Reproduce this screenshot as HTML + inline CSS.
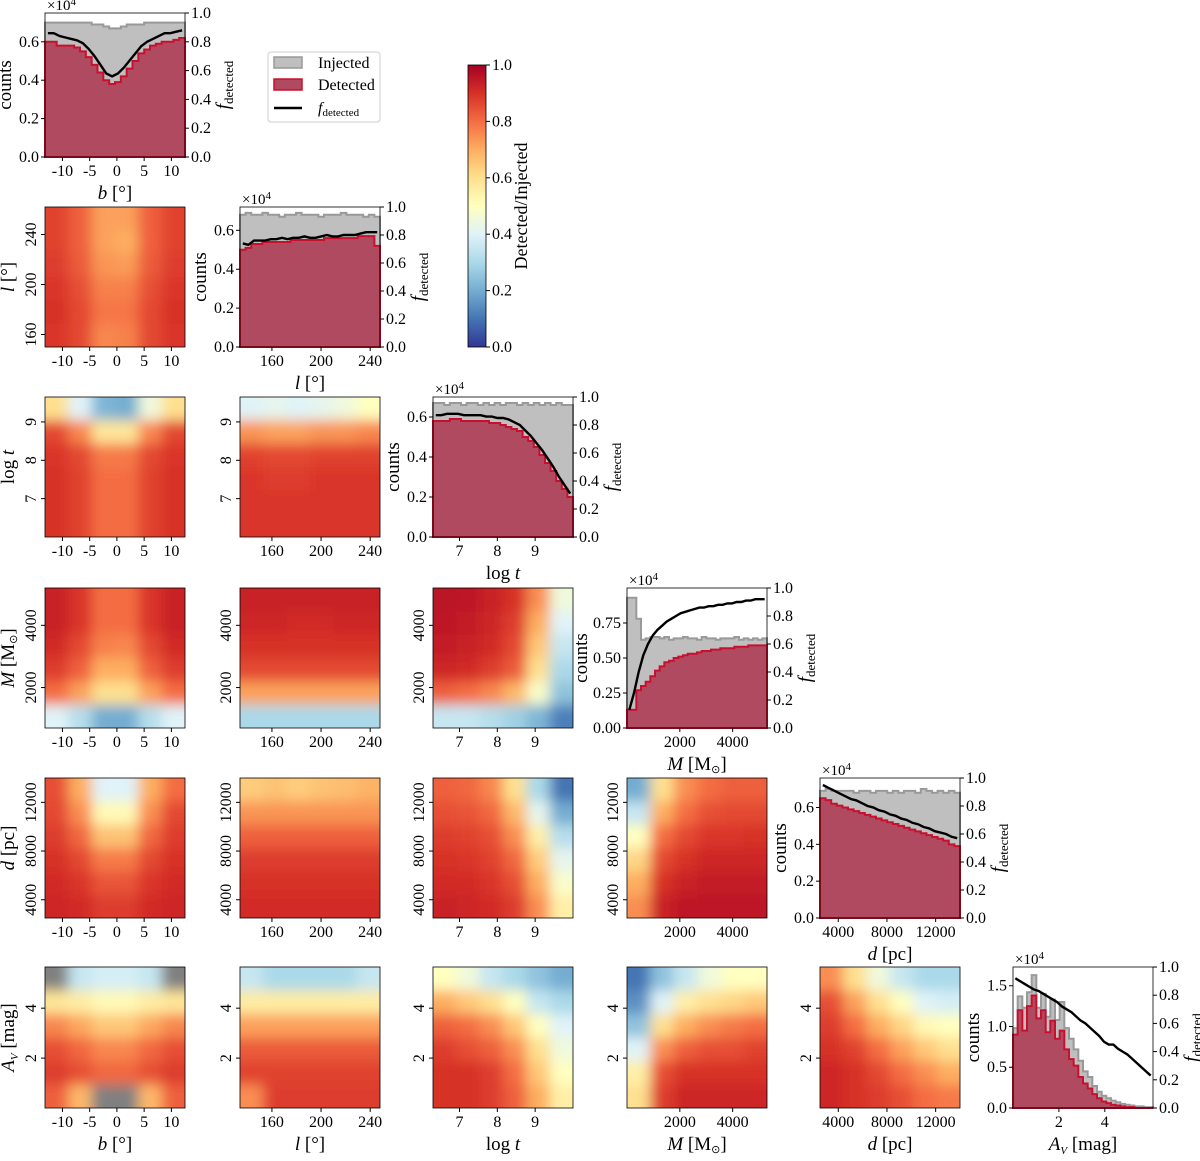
<!DOCTYPE html>
<html><head><meta charset="utf-8"><style>
html,body{margin:0;padding:0;background:#fff;}
svg text{font-family:"Liberation Serif",serif;fill:#000;}
</style></head><body>
<svg id="fig" xmlns="http://www.w3.org/2000/svg" width="1200" height="1156" viewBox="0 0 1200 1156"></svg>
<script>
// ---- data ----
const varNames = ["b","l","logt","M","d","AV"];
const xRanges = [[-13.2,12.5],[134,248],[6.3,10],[0,5300],[2500,14000],[0,6.1]];
const yRanges = [[-13.2,12.5],[150,262],[6.0,9.65],[700,5200],[2500,14000],[0,5.65]];
const tickVals = [[-10,-5,0,5,10],[160,200,240],[7,8,9],[2000,4000],[4000,8000,12000],[2,4]];
const tickLabels = [["-10","-5","0","5","10"],["160","200","240"],["7","8","9"],["2000","4000"],["4000","8000","12000"],["2","4"]];
const axisLabelsX = ["<tspan font-style='italic'>b</tspan> [°]","<tspan font-style='italic'>l</tspan> [°]","log <tspan font-style='italic'>t</tspan>","<tspan font-style='italic'>M</tspan> [M<tspan font-size='11' dy='3'>⊙</tspan><tspan dy='-3'>]</tspan>","<tspan font-style='italic'>d</tspan> [pc]","<tspan font-style='italic'>A</tspan><tspan font-style='italic' font-size='11' dy='4'>V</tspan><tspan dy='-4'> [mag]</tspan>"];

// histograms (counts in units of 1e4)
const injB = [0.70,0.70,0.70,0.70,0.70,0.70,0.70,0.70,0.69,0.69,0.68,0.67,0.67,0.68,0.69,0.69,0.69,0.70,0.70,0.70,0.70,0.70,0.70,0.70];
const detB = [0.60,0.60,0.58,0.58,0.58,0.57,0.55,0.52,0.48,0.44,0.40,0.38,0.39,0.42,0.46,0.50,0.54,0.56,0.58,0.59,0.60,0.60,0.61,0.62];
const fB   = [0.86,0.86,0.84,0.83,0.82,0.81,0.79,0.75,0.70,0.64,0.58,0.56,0.58,0.62,0.67,0.72,0.77,0.80,0.82,0.84,0.86,0.86,0.87,0.88];
const injL = [0.68,0.69,0.68,0.68,0.69,0.68,0.68,0.67,0.68,0.68,0.69,0.68,0.68,0.68,0.67,0.68,0.68,0.68,0.69,0.68,0.68,0.68,0.67,0.68,0.67];
const detL = [0.50,0.51,0.53,0.53,0.54,0.54,0.54,0.54,0.54,0.55,0.55,0.55,0.55,0.55,0.55,0.56,0.56,0.56,0.56,0.56,0.56,0.57,0.57,0.57,0.52];
const fL   = [0.74,0.73,0.76,0.76,0.76,0.77,0.77,0.78,0.77,0.78,0.78,0.79,0.78,0.78,0.79,0.80,0.79,0.79,0.80,0.80,0.80,0.81,0.82,0.82,0.82];
const injT = [0.67,0.67,0.66,0.67,0.67,0.66,0.67,0.67,0.66,0.67,0.66,0.67,0.66,0.67,0.67,0.66,0.67,0.66,0.67,0.66,0.67,0.66,0.67,0.66,0.66];
const detT = [0.58,0.58,0.58,0.59,0.59,0.58,0.58,0.58,0.58,0.58,0.57,0.57,0.56,0.55,0.54,0.53,0.50,0.48,0.45,0.41,0.37,0.33,0.28,0.24,0.20];
const fT   = [0.87,0.87,0.88,0.88,0.88,0.87,0.87,0.87,0.87,0.86,0.86,0.85,0.85,0.84,0.82,0.80,0.76,0.72,0.67,0.62,0.56,0.50,0.43,0.37,0.31];
const injM = [0.93,0.93,0.78,0.63,0.64,0.65,0.65,0.64,0.65,0.63,0.64,0.64,0.65,0.64,0.64,0.63,0.65,0.64,0.64,0.63,0.64,0.64,0.64,0.65,0.63,0.64,0.63,0.64,0.63,0.64];
const detM = [0.13,0.13,0.27,0.30,0.33,0.37,0.41,0.44,0.47,0.48,0.50,0.51,0.52,0.53,0.53,0.54,0.55,0.55,0.56,0.56,0.57,0.57,0.57,0.58,0.58,0.58,0.59,0.59,0.59,0.59];
const fM   = [0.13,0.25,0.40,0.52,0.60,0.66,0.70,0.73,0.76,0.78,0.80,0.82,0.83,0.84,0.85,0.86,0.86,0.87,0.87,0.88,0.88,0.89,0.89,0.90,0.90,0.91,0.91,0.92,0.92,0.92];
const injD = [0.69,0.70,0.69,0.69,0.69,0.69,0.68,0.69,0.69,0.68,0.69,0.69,0.68,0.69,0.68,0.69,0.69,0.68,0.70,0.69,0.68,0.69,0.68,0.69,0.68];
const detD = [0.65,0.64,0.62,0.61,0.60,0.59,0.58,0.57,0.56,0.55,0.54,0.53,0.52,0.51,0.50,0.49,0.48,0.47,0.46,0.45,0.44,0.43,0.42,0.40,0.39];
const fD   = [0.95,0.93,0.91,0.89,0.87,0.85,0.84,0.82,0.80,0.79,0.77,0.76,0.74,0.73,0.71,0.70,0.68,0.67,0.65,0.64,0.62,0.61,0.60,0.58,0.57];
const injA = [0.98,1.37,1.23,1.42,1.63,1.23,1.40,1.12,1.33,1.08,1.30,0.98,0.85,0.72,0.58,0.45,0.38,0.27,0.20,0.15,0.12,0.09,0.07,0.05,0.04,0.03,0.02,0.02,0.01,0.01];
const detA = [0.90,1.20,0.95,1.25,1.38,1.10,1.20,0.93,1.07,0.85,0.95,0.72,0.60,0.52,0.38,0.30,0.24,0.17,0.12,0.08,0.06,0.04,0.03,0.02,0.01,0.01,0.00,0.00,0.00,0.00];
const fA   = [0.92,0.90,0.88,0.86,0.84,0.83,0.81,0.79,0.77,0.75,0.72,0.70,0.68,0.65,0.62,0.60,0.57,0.54,0.51,0.47,0.45,0.45,0.42,0.40,0.38,0.35,0.32,0.29,0.26,0.23];
const histInj = [injB,injL,injT,injM,injD,injA];
const histDet = [detB,detL,detT,detM,detD,detA];
const histF = [fB,fL,fT,fM,fD,fA];
const histYmax = [0.75,0.72,0.70,1.0,0.76,1.73];
const histYticks = [[0,0.2,0.4,0.6],[0,0.2,0.4,0.6],[0,0.2,0.4,0.6],[0,0.25,0.5,0.75],[0,0.2,0.4,0.6],[0,0.5,1.0,1.5]];
const histYtickLabels = [["0.0","0.2","0.4","0.6"],["0.0","0.2","0.4","0.6"],["0.0","0.2","0.4","0.6"],["0.00","0.25","0.50","0.75"],["0.0","0.2","0.4","0.6"],["0.0","0.5","1.0","1.5"]];
const fTicks = [0,0.2,0.4,0.6,0.8,1.0];
const fTickLabels = ["0.0","0.2","0.4","0.6","0.8","1.0"];

// heatmaps: detected fraction on 6x6 grids, rows top->bottom; -1 = no data (grey)
const hm_l_b = [[0.87,0.82,0.72,0.72,0.82,0.87],[0.87,0.82,0.72,0.70,0.82,0.87],[0.88,0.83,0.74,0.73,0.83,0.88],[0.89,0.85,0.77,0.77,0.85,0.89],[0.90,0.86,0.79,0.79,0.86,0.90],[0.89,0.86,0.76,0.77,0.86,0.89]];
const hm_t_b = [[0.60,0.40,0.22,0.20,0.45,0.60],[0.86,0.76,0.58,0.58,0.76,0.86],[0.89,0.86,0.78,0.78,0.86,0.89],[0.90,0.87,0.80,0.80,0.87,0.90],[0.90,0.87,0.80,0.80,0.87,0.90],[0.90,0.87,0.80,0.80,0.87,0.90]];
const hm_t_l = [[0.40,0.42,0.40,0.42,0.45,0.50],[0.74,0.72,0.72,0.74,0.74,0.76],[0.87,0.86,0.86,0.87,0.87,0.87],[0.89,0.88,0.88,0.89,0.89,0.89],[0.89,0.89,0.89,0.89,0.89,0.89],[0.89,0.89,0.89,0.89,0.89,0.89]];
const hm_M_b = [[0.93,0.89,0.80,0.80,0.89,0.93],[0.93,0.89,0.80,0.80,0.89,0.93],[0.91,0.86,0.77,0.76,0.86,0.91],[0.88,0.82,0.70,0.70,0.82,0.88],[0.80,0.72,0.60,0.60,0.72,0.80],[0.40,0.32,0.20,0.20,0.32,0.40]];
const hm_M_l = [[0.93,0.93,0.93,0.93,0.93,0.93],[0.92,0.92,0.91,0.91,0.92,0.92],[0.90,0.90,0.90,0.90,0.90,0.90],[0.86,0.86,0.86,0.86,0.86,0.86],[0.72,0.72,0.72,0.72,0.72,0.72],[0.30,0.30,0.30,0.30,0.30,0.30]];
const hm_M_t = [[0.96,0.95,0.93,0.90,0.75,0.45],[0.95,0.94,0.92,0.88,0.70,0.40],[0.94,0.93,0.91,0.86,0.65,0.35],[0.92,0.91,0.88,0.83,0.60,0.30],[0.82,0.80,0.76,0.68,0.48,0.25],[0.35,0.35,0.32,0.28,0.22,0.12]];
const hm_d_b = [[0.85,0.70,0.40,0.40,0.70,0.80],[0.86,0.75,0.52,0.52,0.75,0.86],[0.88,0.81,0.66,0.66,0.81,0.88],[0.90,0.86,0.78,0.78,0.86,0.90],[0.91,0.89,0.84,0.84,0.89,0.91],[0.92,0.91,0.88,0.88,0.91,0.92]];
const hm_d_l = [[0.64,0.66,0.64,0.66,0.67,0.69],[0.74,0.74,0.74,0.74,0.74,0.74],[0.82,0.82,0.82,0.82,0.82,0.82],[0.88,0.88,0.88,0.88,0.88,0.88],[0.90,0.90,0.90,0.90,0.90,0.90],[0.91,0.91,0.91,0.91,0.91,0.91]];
const hm_d_t = [[0.82,0.81,0.76,0.60,0.30,0.10],[0.85,0.84,0.81,0.68,0.42,0.20],[0.88,0.87,0.85,0.75,0.55,0.32],[0.90,0.89,0.87,0.81,0.64,0.42],[0.91,0.91,0.89,0.85,0.70,0.48],[0.93,0.92,0.91,0.88,0.75,0.55]];
const hm_d_M = [[0.20,0.60,0.75,0.80,0.82,0.82],[0.35,0.70,0.80,0.85,0.86,0.86],[0.50,0.80,0.86,0.89,0.89,0.90],[0.62,0.86,0.90,0.92,0.92,0.92],[0.70,0.90,0.93,0.94,0.94,0.94],[0.75,0.93,0.95,0.95,0.95,0.95]];
const hm_A_b = [[-1,0.35,0.38,0.38,0.35,-1],[0.58,0.56,0.52,0.52,0.56,0.58],[0.76,0.71,0.65,0.65,0.71,0.76],[0.85,0.81,0.76,0.76,0.81,0.85],[0.88,0.85,0.81,0.81,0.85,0.88],[0.82,0.68,-1,-1,0.68,0.82]];
const hm_A_l = [[0.35,0.30,0.30,0.30,0.30,0.35],[0.56,0.56,0.56,0.56,0.56,0.56],[0.72,0.72,0.72,0.72,0.72,0.72],[0.83,0.83,0.83,0.83,0.83,0.83],[0.87,0.87,0.87,0.87,0.87,0.87],[0.75,0.88,0.88,0.88,0.88,0.88]];
const hm_A_t = [[0.50,0.45,0.35,0.30,0.25,0.20],[0.70,0.65,0.60,0.50,0.35,0.30],[0.82,0.80,0.75,0.65,0.50,0.40],[0.88,0.85,0.82,0.75,0.60,0.45],[0.90,0.90,0.88,0.80,0.65,0.50],[0.90,0.90,0.88,0.82,0.70,0.55]];
const hm_A_M = [[0.10,0.25,0.35,0.45,0.50,0.50],[0.15,0.40,0.55,0.60,0.62,0.65],[0.25,0.60,0.70,0.75,0.78,0.80],[0.40,0.75,0.82,0.85,0.85,0.87],[0.55,0.85,0.90,0.90,0.90,0.90],[0.60,0.88,0.92,0.92,0.92,0.92]];
const hm_A_d = [[0.75,0.60,0.45,0.35,0.30,0.30],[0.85,0.72,0.60,0.50,0.40,0.38],[0.88,0.80,0.70,0.62,0.52,0.50],[0.90,0.87,0.80,0.72,0.65,0.60],[0.92,0.90,0.86,0.80,0.75,0.70],[0.92,0.90,0.88,0.85,0.80,0.78]];
const heatmaps = {"1,0":hm_l_b,"2,0":hm_t_b,"2,1":hm_t_l,"3,0":hm_M_b,"3,1":hm_M_l,"3,2":hm_M_t,"4,0":hm_d_b,"4,1":hm_d_l,"4,2":hm_d_t,"4,3":hm_d_M,"5,0":hm_A_b,"5,1":hm_A_l,"5,2":hm_A_t,"5,3":hm_A_M,"5,4":hm_A_d};

// ---- layout ----
const colX = [45,240,433,627,820,1013];
const rowTop = [13,207,397,588,778,967];
const rowBot = [157,347,537,728,918,1108];
const W = 140;
const NS = "http://www.w3.org/2000/svg";
const svg = document.getElementById("fig");
const defs = document.createElementNS(NS,"defs");
svg.appendChild(defs);

function mk(tag, attrs, parent, name){
  const e = document.createElementNS(NS, tag);
  for (const k in attrs) e.setAttribute(k, attrs[k]);
  
  
  (parent||svg).appendChild(e);
  return e;
}
const stops = [[0,[49,54,149]],[0.1,[69,117,180]],[0.2,[116,173,209]],[0.3,[171,217,233]],[0.4,[224,243,248]],[0.5,[255,255,191]],[0.6,[254,224,144]],[0.7,[253,174,97]],[0.8,[244,109,67]],[0.9,[215,48,39]],[1.0,[165,0,38]]];
function cmap(v){
  if (v < 0) return "rgb(128,128,128)";
  v = Math.max(0, Math.min(1, v));
  for (let i=0;i<stops.length-1;i++){
    const a=stops[i], b=stops[i+1];
    if (v<=b[0]){ const t=(v-a[0])/(b[0]-a[0]); const c=a[1].map((x,j)=>Math.round(x+(b[1][j]-x)*t)); return `rgb(${c[0]},${c[1]},${c[2]})`; }
  }
  return "rgb(165,0,38)";
}
function sx(j,v){ const r=xRanges[j]; return colX[j]+(v-r[0])/(r[1]-r[0])*W; }
function sy(i,v){ const r=yRanges[i]; return rowBot[i]-(v-r[0])/(r[1]-r[0])*(rowBot[i]-rowTop[i]); }

function text(x,y,str,attrs,name){
  const t = mk('text', Object.assign({x:x,y:y,'font-size':16},attrs||{}), svg, name);
  t.innerHTML = str;
  return t;
}
function xTicks(j,i,withLabel){
  const yb = rowBot[i];
  tickVals[j].forEach((v,k)=>{
    const x = sx(j,v);
    mk('line',{x1:x,x2:x,y1:yb,y2:yb+4,stroke:'#000','stroke-width':1},svg,'x-tick');
    text(x,yb+19,tickLabels[j][k],{'text-anchor':'middle'},'x-tick-label');
  });
  if (withLabel) text(colX[j]+W/2, yb+42, axisLabelsX[j], {'text-anchor':'middle','font-size':19}, 'x-axis-title');
}

// ---- heatmaps ----
let fid = 0;
for (const key in heatmaps){
  const [i,j] = key.split(",").map(Number);
  const grid = heatmaps[key];
  const x0 = colX[j], y0 = rowTop[i], h = rowBot[i]-rowTop[i];
  const nr = grid.length, nc = grid[0].length;
  const cw = W/nc, ch = h/nr, pad = 30;
  fid++;
  const clip = mk('clipPath',{id:'c'+fid},defs,'clip');
  mk('rect',{x:x0,y:y0,width:W,height:h},clip,'clip-rect');
  const filt = mk('filter',{id:'f'+fid,filterUnits:'userSpaceOnUse',x:x0-pad,y:y0-pad,width:W+2*pad,height:h+2*pad},defs,'blur-filter');
  mk('feGaussianBlur',{stdDeviation:6.5},filt,'blur');
  const g0 = mk('g',{'clip-path':`url(#c${fid})`},svg,`heatmap-${varNames[i]}-vs-${varNames[j]}`);
  const g = mk('g',{filter:`url(#f${fid})`},g0,'heatmap-cells');
  for (let r=0;r<nr;r++) for (let c=0;c<nc;c++){
    let x = x0+c*cw, y = y0+r*ch, w = cw+0.6, hh = ch+0.6;
    if (c===0){ x-=pad; w+=pad; } if (c===nc-1){ w+=pad; }
    if (r===0){ y-=pad; hh+=pad; } if (r===nr-1){ hh+=pad; }
    mk('rect',{x:x,y:y,width:w,height:hh,fill:cmap(grid[r][c])},g,'heatmap-cell');
  }
  mk('rect',{x:x0,y:y0,width:W,height:h,fill:'none',stroke:'#000','stroke-width':0.8},svg,'panel-frame');
  tickVals[i].forEach((v,k)=>{
    const y = sy(i,v);
    if (y<y0||y>y0+h) return;
    mk('line',{x1:x0-4,x2:x0,y1:y,y2:y,stroke:'#000'},svg,'y-tick');
    text(x0-9,y,tickLabels[i][k],{'text-anchor':'middle',transform:`rotate(-90 ${x0-9} ${y})`},'y-tick-label');
  });
  xTicks(j,i,i===5);
  if (j===0) text(x0-31, y0+h/2, axisLabelsX[i], {'text-anchor':'middle','font-size':19,transform:`rotate(-90 ${x0-31} ${y0+h/2})`}, 'y-axis-title');
}

// ---- diagonal histograms ----
for (let k=0;k<6;k++){
  const x0 = colX[k], y0 = rowTop[k], yb = rowBot[k], h = yb-y0;
  const inj = histInj[k], det = histDet[k], f = histF[k], ym = histYmax[k];
  const n = inj.length, bw = W/n;
  const yc = v => yb - v/ym*h;
  const yf = v => yb - v*h;
  const g = mk('g',{},svg,`histogram-${varNames[k]}`);
  function stepPath(arr){
    let d = `M${x0},${yb}`;
    arr.forEach((v,b)=>{ d += ` L${x0+b*bw},${yc(v)} L${x0+(b+1)*bw},${yc(v)}`; });
    d += ` L${x0+W},${yb} Z`;
    return d;
  }
  mk('path',{d:stepPath(inj),fill:'#bfbfbf',stroke:'#999','stroke-width':2},g,'injected-bars');
  mk('path',{d:stepPath(det),fill:'#b04a61',stroke:'#c8102e','stroke-width':2},g,'detected-bars');
  let fd = '';
  f.forEach((v,b)=>{ fd += (b?' L':'M') + (x0+(b+0.5)*bw) + ',' + yf(v); });
  mk('path',{d:fd,fill:'none',stroke:'#000','stroke-width':2.4},g,'f-detected-line');
  mk('rect',{x:x0,y:y0,width:W,height:h,fill:'none',stroke:'#000','stroke-width':0.8},svg,'panel-frame');
  histYticks[k].forEach((v,q)=>{
    const y = yc(v);
    mk('line',{x1:x0-4,x2:x0,y1:y,y2:y,stroke:'#000'},svg,'y-tick');
    text(x0-6,y+5,histYtickLabels[k][q],{'text-anchor':'end'},'y-tick-label');
  });
  fTicks.forEach((v,q)=>{
    const y = yf(v);
    mk('line',{x1:x0+W,x2:x0+W+4,y1:y,y2:y,stroke:'#000'},svg,'right-tick');
    text(x0+W+6,y+5,fTickLabels[q],{'text-anchor':'start'},'right-tick-label');
  });
  text(x0+2,y0-3,'×10<tspan font-size="11" dy="-5">4</tspan>',{'font-size':15},'offset-label');
  const lx = x0 - (k===3?40:34);
  text(lx, y0+h/2, 'counts', {'text-anchor':'middle','font-size':19,transform:`rotate(-90 ${lx} ${y0+h/2})`}, 'counts-axis-title');
  const rx = x0+W+44;
  text(rx, y0+h/2, '<tspan font-style="italic">f</tspan><tspan font-size="13" dy="4">detected</tspan>', {'text-anchor':'middle','font-size':19,transform:`rotate(-90 ${rx} ${y0+h/2})`}, 'f-detected-axis-title');
  xTicks(k,k,true);
}

// ---- legend ----
const lg = mk('g',{},svg,'legend');
mk('rect',{x:268,y:52,width:112,height:70,rx:3,fill:'#fff',stroke:'#ccc'},lg,'legend-frame');
mk('rect',{x:274,y:57,width:28,height:11,fill:'#bfbfbf',stroke:'#999','stroke-width':1.5},lg,'legend-swatch-injected');
text(318,68,'Injected',{},'legend-label-injected');
mk('rect',{x:274,y:79,width:28,height:11,fill:'#b04a61',stroke:'#c8102e','stroke-width':1.5},lg,'legend-swatch-detected');
text(318,90,'Detected',{},'legend-label-detected');
mk('line',{x1:274,x2:302,y1:108,y2:108,stroke:'#000','stroke-width':2.4},lg,'legend-line-f');
text(318,113,'<tspan font-style="italic">f</tspan><tspan font-size="11" dy="3">detected</tspan>',{},'legend-label-f');

// ---- colorbar ----
const grad = mk('linearGradient',{id:'cbg',x1:0,y1:1,x2:0,y2:0},defs,'colorbar-gradient');
stops.forEach(s=>{ mk('stop',{offset:s[0],'stop-color':cmap(s[0])},grad,'gradient-stop'); });
const cb = mk('g',{},svg,'colorbar');
mk('rect',{x:468,y:65,width:18,height:282,fill:'url(#cbg)',stroke:'#000','stroke-width':0.8},cb,'colorbar-bar');
fTicks.forEach((v,q)=>{
  const y = 347 - v*282;
  mk('line',{x1:486,x2:490,y1:y,y2:y,stroke:'#000'},cb,'colorbar-tick');
  text(492,y+5,fTickLabels[q],{},'colorbar-tick-label');
});
text(527,206,'Detected/Injected',{'text-anchor':'middle','font-size':18,transform:'rotate(-90 527 206)'},'colorbar-title');
</script>
</body></html>
